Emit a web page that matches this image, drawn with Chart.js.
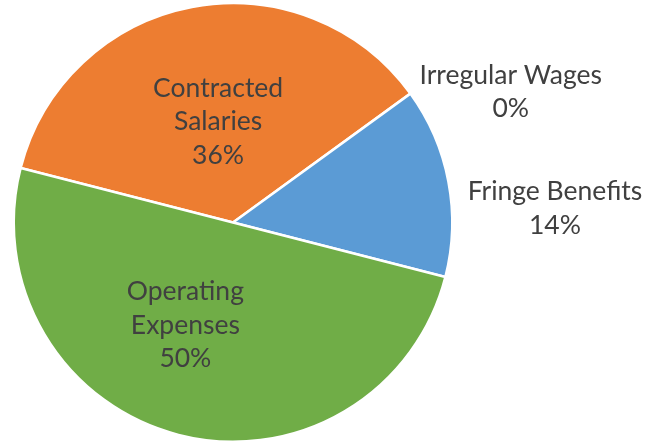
<!DOCTYPE html>
<html>
<head>
<meta charset="utf-8">
<script src="https://cdn.jsdelivr.net/npm/chart.js@4.4.1/dist/chart.umd.min.js"></script>
<style>
  html, body { margin: 0; padding: 0; background: #ffffff; }
  #wrap { width: 658px; height: 445px; position: relative; }
</style>
</head>
<body>
<div id="wrap"><canvas id="c" width="658" height="445"></canvas></div>
<script>
const categories = ["Contracted Salaries", "Irregular Wages", "Fringe Benefits", "Operating Expenses"];
const labelLines = [["Contracted", "Salaries"], ["Irregular Wages"], ["Fringe Benefits"], ["Operating", "Expenses"]];
const values = [36, 0, 14, 50];
const percentLabels = ["36%", "0%", "14%", "50%"];
const sliceColors = ["#ED7D31", "#A5A5A5", "#5B9BD5", "#70AD47"];

// label placement relative to each arc: radial fraction and angle shift (deg)
const labelPlacement = [
  { frac: 0.465, shift: 2.4 },
  { frac: 1.40, shift: 10.8 },
  { frac: 1.47, shift: 8.3 },
  { frac: 0.516, shift: 10.5 }
];

const pieLabels = {
  id: 'pieLabels',
  afterDatasetsDraw(chart) {
    const ctx = chart.ctx;
    const meta = chart.getDatasetMeta(0);
    ctx.save();
    ctx.fillStyle = '#404040';
    ctx.font = '26.5px Lato';
    ctx.textAlign = 'center';
    ctx.textBaseline = 'middle';
    const lineH = 33.5;
    meta.data.forEach((arc, i) => {
      const p = arc.getProps(['x', 'y', 'startAngle', 'endAngle', 'outerRadius'], true);
      const mid = (p.startAngle + p.endAngle) / 2 + labelPlacement[i].shift * Math.PI / 180;
      const r = p.outerRadius * labelPlacement[i].frac;
      const cx = p.x + Math.cos(mid) * r;
      const cy = p.y + Math.sin(mid) * r;
      const lines = labelLines[i].concat([percentLabels[i]]);
      const y0 = cy - (lines.length - 1) * lineH / 2;
      lines.forEach((t, k) => ctx.fillText(t, cx, y0 + k * lineH));
    });
    ctx.restore();
  }
};

new Chart(document.getElementById('c'), {
  type: 'pie',
  data: {
    labels: categories,
    datasets: [{
      data: values,
      backgroundColor: sliceColors,
      borderColor: '#ffffff',
      borderWidth: 2.5
    }]
  },
  options: {
    responsive: false,
    animation: false,
    rotation: -75.6,
    layout: { padding: { left: 12, right: 204, top: 2, bottom: 2 } },
    plugins: {
      legend: { display: false },
      tooltip: { enabled: false }
    }
  },
  plugins: [pieLabels]
});
</script>
</body>
</html>
